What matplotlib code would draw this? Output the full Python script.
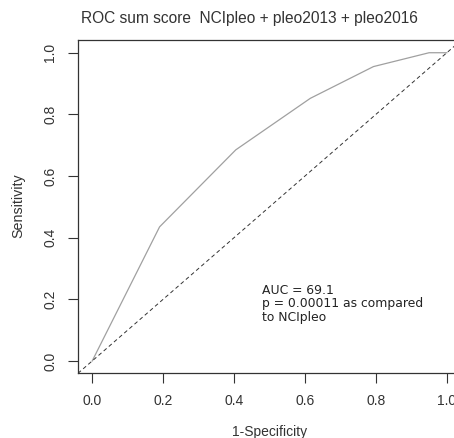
import matplotlib
matplotlib.use('Agg')
import matplotlib.pyplot as plt
import numpy as np

#--- Data ---
fpr = [0.0, 0.19, 0.405, 0.615, 0.793, 0.95, 1.0]
tpr = [0.0, 0.435, 0.685, 0.852, 0.955, 1.0, 1.0]
ticks = [0.0, 0.2, 0.4, 0.6, 0.8, 1.0]
tick_labels = ['0.0', '0.2', '0.4', '0.6', '0.8', '1.0']
auc_text = 'AUC = 69.1\np = 0.00011 as compared\nto NCIpleo'

W, H = 454, 438
fig = plt.figure(figsize=(W / 100, H / 100), dpi=100)
ax = fig.add_axes([78 / W, 64.7 / H, 383 / W, 332.9 / H])

ax.plot(fpr, tpr, color='#a0a0a0', lw=0.9)
ax.plot([-0.04, 1.04], [-0.04, 1.04], color='#333333', lw=0.7, ls=(0, (4, 3)))

ax.set_xlim(-0.04, 1.04)
ax.set_ylim(-0.04, 1.04)
ax.set_xticks(ticks)
ax.set_xticklabels(tick_labels)
ax.set_yticks(ticks)
ax.set_yticklabels(tick_labels, rotation=90, va='center')
ax.tick_params(length=7, width=0.8, color='#333333', labelcolor='#333333',
               labelsize=10, labelfontfamily='Liberation Sans')
ax.tick_params(axis='x', pad=8)
ax.tick_params(axis='y', pad=8)
for s in ax.spines.values():
    s.set_linewidth(0.9)
    s.set_color('#333333')

ax.text(0.48, 0.25, auc_text, fontsize=8.9, family='DejaVu Sans', color='#222222',
        va='top', ha='left', linespacing=1.05)

fig.text(249 / W, 1 - 18 / H, 'ROC sum score  NCIpleo + pleo2013 + pleo2016',
         ha='center', va='center', fontsize=11.2, family='Liberation Sans', color='#333333')
fig.text(270 / W, 1 - 432 / H, '1-Specificity', ha='center', va='center',
         fontsize=10, family='Liberation Sans', color='#333333')
fig.text(18 / W, 1 - 206 / H, 'Sensitivity', ha='center', va='center', rotation=90,
         fontsize=10.3, family='Liberation Sans', color='#333333')

fig.savefig('out.png', dpi=100)
